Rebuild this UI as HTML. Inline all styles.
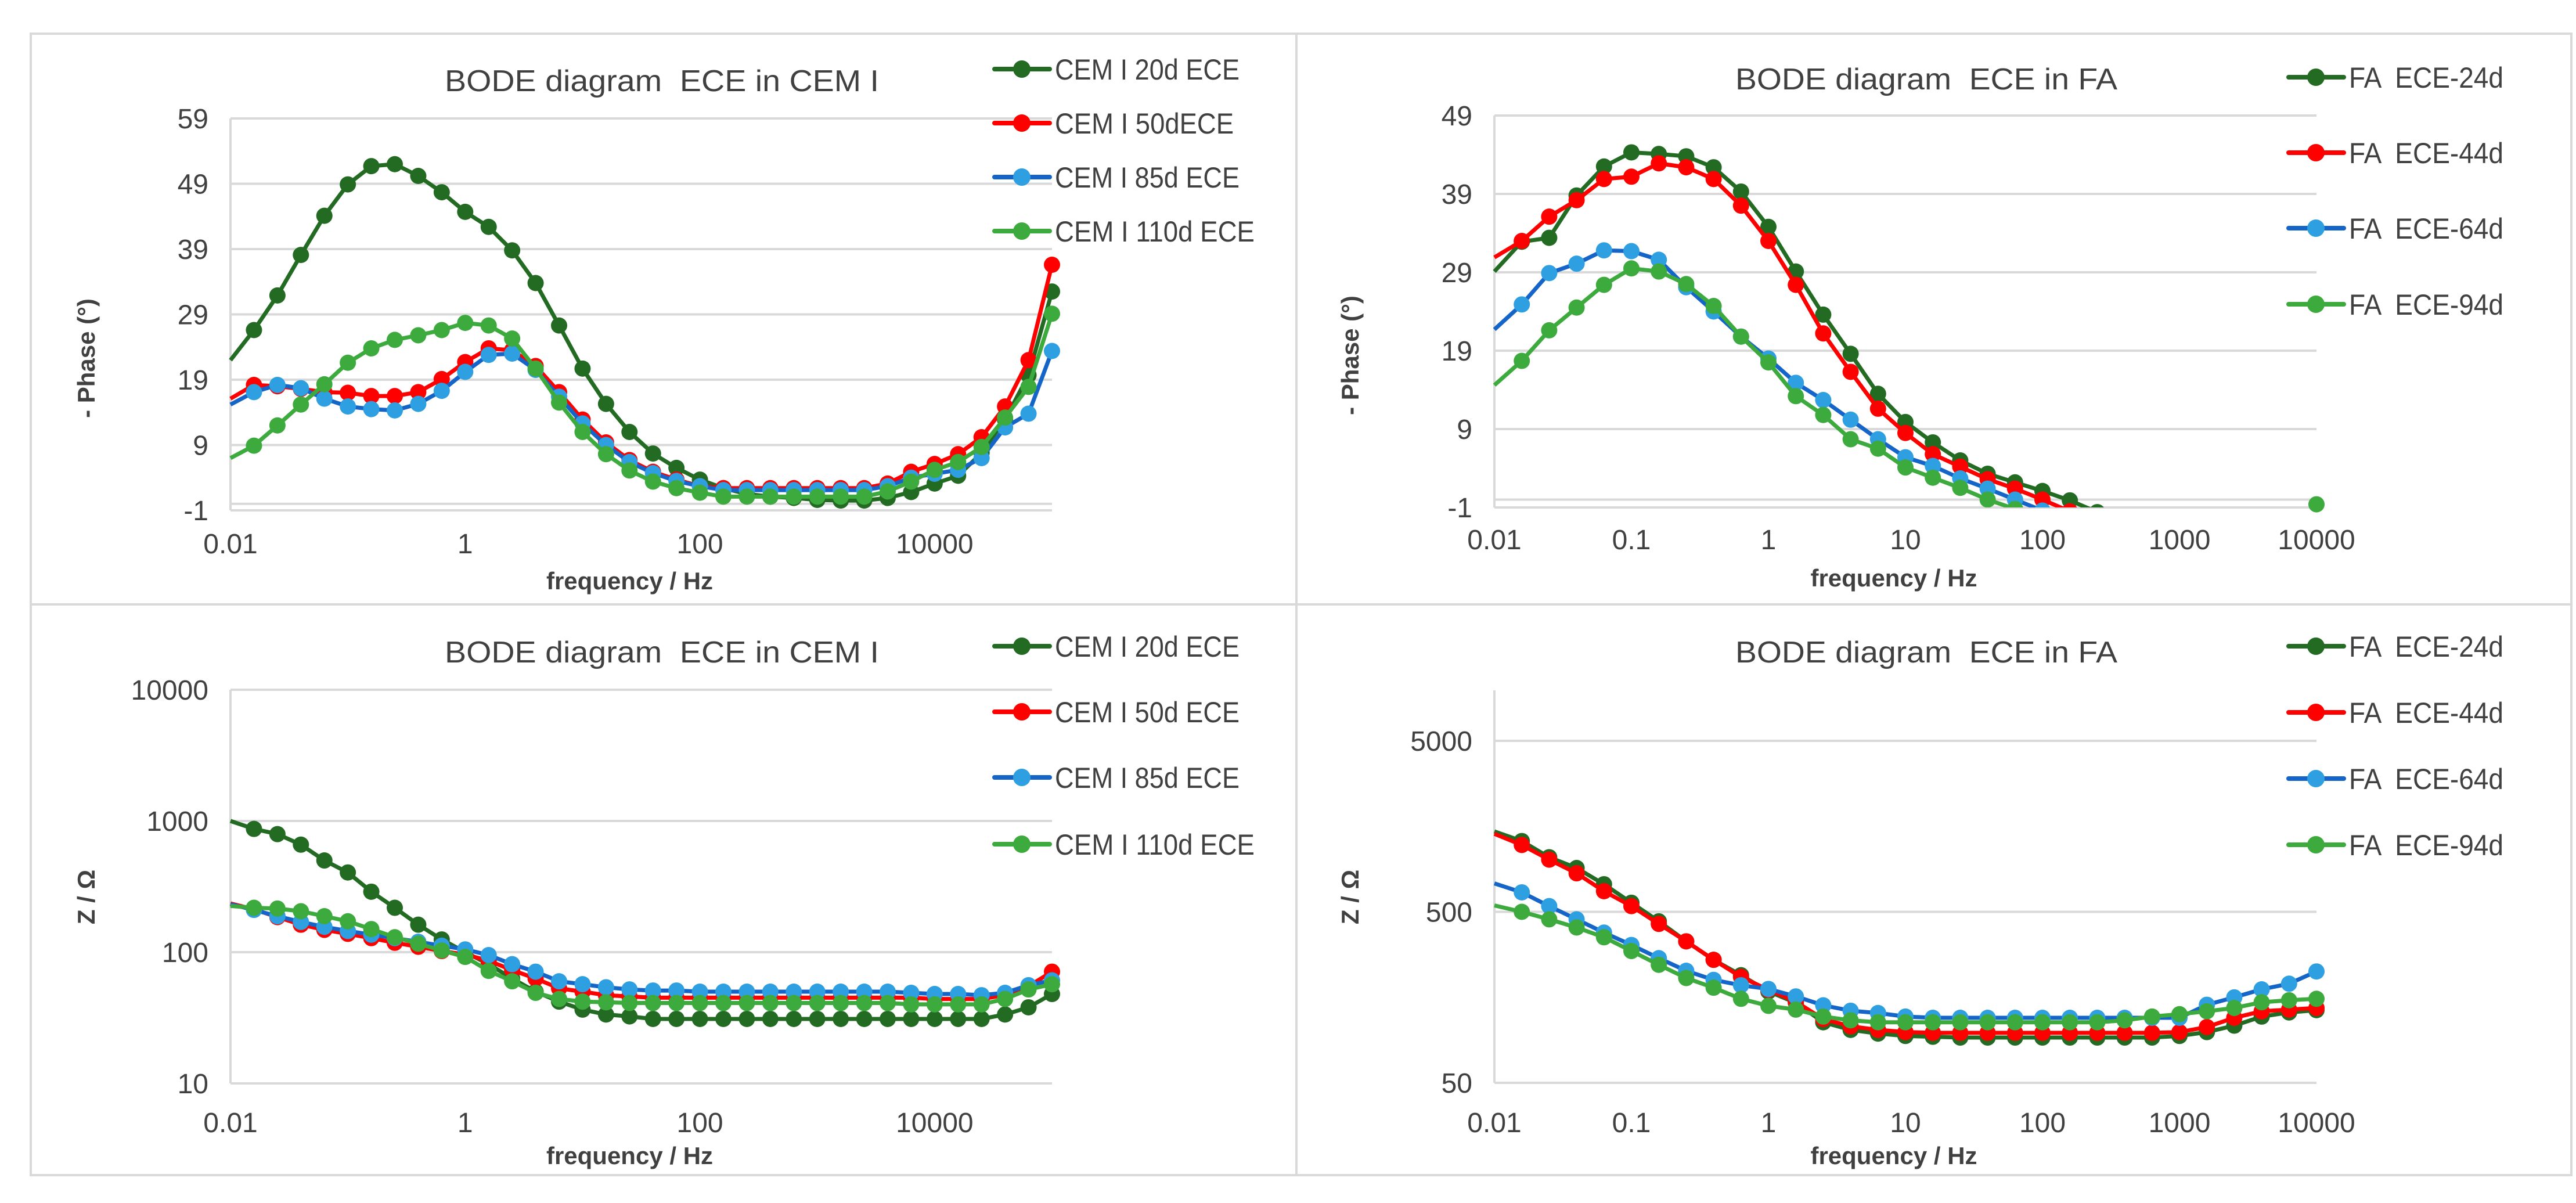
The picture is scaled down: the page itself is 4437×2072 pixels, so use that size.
<!DOCTYPE html>
<html><head><meta charset="utf-8"><title>BODE diagrams ECE</title>
<style>
html,body{margin:0;padding:0;background:#fff;}
svg{display:block;}
text{font-family:"Liberation Sans",sans-serif;fill:#404040;white-space:pre;}
</style></head>
<body>
<svg id="root" xmlns="http://www.w3.org/2000/svg" width="4437" height="2072" viewBox="0 0 4437 2072">
<rect x="0" y="0" width="4437" height="2072" fill="#fff"/>
<rect x="53" y="58" width="4376" height="1966" fill="none" stroke="#d9d9d9" stroke-width="4"/>
<line x1="53" y1="1041" x2="4429" y2="1041" stroke="#d9d9d9" stroke-width="4"/>
<line x1="2233" y1="58" x2="2233" y2="2024" stroke="#d9d9d9" stroke-width="4"/>
</svg>
<script>
// ---- shared log-frequency grid (log10 Hz) ----
const logFreqCem = [-2.0,-1.8,-1.6,-1.4,-1.2,-1.0,-0.8,-0.6,-0.4,-0.2,0.0,0.2,0.4,0.6,0.8,1.0,1.2,1.4,1.6,1.8,2.0,2.2,2.4,2.6,2.8,3.0,3.2,3.4,3.6,3.8,4.0,4.2,4.4,4.6,4.8,5.0];
const logFreqFa = [-2.0,-1.8,-1.6,-1.4,-1.2,-1.0,-0.8,-0.6,-0.4,-0.2,0.0,0.2,0.4,0.6,0.8,1.0,1.2,1.4,1.6,1.8,2.0,2.2,2.4,2.6,2.8,3.0,3.2,3.4,3.6,3.8,4.0];

// ---- CEM I phase (-deg) ----
const cemPhase20 = [22.0,26.6,31.9,38.1,44.1,48.9,51.7,52.0,50.2,47.7,44.7,42.4,38.8,33.8,27.3,20.7,15.3,11.0,7.7,5.5,3.7,2.4,1.5,1.1,0.9,0.6,0.5,0.5,0.9,1.8,3.1,4.3,7.8,12.9,19.7,32.5];
const cemPhase50 = [16.1,18.2,18.0,17.6,17.1,17.0,16.5,16.5,17.1,19.1,21.7,23.8,23.5,21.1,17.1,12.9,9.4,6.7,4.9,3.7,2.7,2.4,2.4,2.4,2.4,2.4,2.4,2.4,3.1,4.9,6.1,7.6,10.2,14.9,22.0,36.6];
const cemPhase85 = [15.2,17.1,18.2,17.7,16.1,14.9,14.5,14.3,15.3,17.3,20.2,22.8,23.0,20.5,16.4,12.3,9.0,6.4,4.7,3.5,2.7,2.1,2.1,2.1,2.1,2.1,2.1,2.1,2.7,4.0,4.6,5.2,7.0,11.7,13.8,23.4];
const cemPhase110 = [7.0,8.9,12.0,15.2,18.3,21.6,23.8,25.1,25.8,26.6,27.7,27.3,25.3,20.7,15.5,11.0,7.6,5.1,3.4,2.4,1.7,1.1,1.1,1.1,1.1,1.1,1.1,1.1,1.9,3.4,5.2,6.4,8.7,13.2,17.9,29.1];
const cemPhaseTicks = [-1,9,19,29,39,49,59];

// ---- FA phase (-deg) ----
const faPhase24 = [29.1,32.9,33.4,38.8,42.5,44.3,44.1,43.8,42.4,39.3,34.8,29.1,23.6,18.6,13.5,9.9,7.3,5.0,3.3,2.2,1.1,-0.1,-1.6];
const faPhase44 = [30.9,33.0,36.1,38.2,40.9,41.2,42.9,42.4,40.9,37.5,33.0,27.4,21.2,16.3,11.6,8.5,5.8,4.2,2.6,1.4,0.0,-1.5];
const faPhase64 = [21.7,24.9,28.9,30.1,31.8,31.7,30.6,27.1,24.0,20.8,18.0,14.9,12.7,10.2,7.7,5.4,4.3,2.7,1.4,0.0,-1.4];
const faPhase94 = [14.6,17.7,21.6,24.5,27.4,29.5,29.1,27.5,24.7,20.8,17.5,13.2,10.8,7.7,6.5,4.1,2.8,1.5,0.0,-1.2];
const faPhaseExtraLogF = [4.0];
const faPhaseExtraVal = [-0.6];
const faPhaseTicks = [-1,9,19,29,39,49];

// ---- CEM I |Z| (ohm) ----
const cemZ20 = [1000,870,794,660,500,405,289,218,162,125,100,81,63,50,42,36.5,33.5,32.4,31,31,31,31,31,31,31,31,31,31,31,31,31,31,31,33.5,38,48];
const cemZ50 = [235,212,185,162,148,138,128,118,110,102,96,86,73,63,53,50,47,46,45,45,45,45,45,45,45,45,45,45,45,45,44,44,44,47,55,71];
const cemZ85 = [232,210,188,170,156,145,136,128,120,112,105,95,81,71,60,57,54,52,51,51,50,50,50,50,50,50,50,50,50,49,48,48,47,49,56,61];
const cemZ110 = [225,218,215,205,188,172,150,130,116,103,92,72,60,49,44,42,41.5,41,41,41,41,41,41,41,41,41,41,41,41,40,40,40,40,44,52,57];
const cemZTicks = [10,100,1000,10000];

// ---- FA |Z| (ohm) ----
const faZ24 = [1476,1297,1043,902,725,565,440,336,262,213,171,147,113,102,97,94,93,92,92,92,92,92,92,92,92,94,99,108,122,129,133];
const faZ44 = [1430,1230,1010,840,660,540,425,336,262,208,175,149,118,107,102,99,98,98,98,98,98,98,98,98,98,99,106,120,131,134,137];
const faZ64 = [733,650,540,452,378,320,268,226,200,186,177,160,142,132,128,122,120,120,120,120,120,120,120,120,120,120,143,158,176,190,224];
const faZ94 = [545,500,452,405,355,295,245,205,180,155,141,134,122,116,113,113,113,113,113,113,113,113,113,116,122,126,131,137,148,152,155];
const faZTicks = [50,500,5000];

const cemXTicks = [-2,0,2,4];
const cemXLabels = ["0.01","1","100","10000"];
const faXTicks = [-2,-1,0,1,2,3,4];
const faXLabels = ["0.01","0.1","1","10","100","1000","10000"];

const colors = {dg:"#236b22", red:"#ff0000", blueL:"#1565c8", blueM:"#2e9fe0", lg:"#3daa3d"};

const NS = "http://www.w3.org/2000/svg";
const root = document.getElementById('root');
function mk(tag, attrs, parent){
  const e = document.createElementNS(NS, tag);
  for (const k in attrs) e.setAttribute(k, attrs[k]);
  (parent||root).appendChild(e);
  return e;
}

function chart(cfg){
  const g = mk('g', {});
  
  
  const L = cfg.left, R = cfg.right, T = cfg.top, B = cfg.bottom;
  const xs = v => L + (v - cfg.xmin) / (cfg.xmax - cfg.xmin) * (R - L);
  const ys = v => {
    const t = cfg.log ? Math.log10(v) : v;
    return cfg.y0 + (t - cfg.t0) / (cfg.t1 - cfg.t0) * (cfg.y1 - cfg.y0);
  };
  cfg.yTicks.forEach(v => {
    const y = ys(v);
    const ln = mk('line', {x1:L, x2:R, y1:y, y2:y, stroke:"#d9d9d9", "stroke-width":4}, g);
    
    
    const t = mk('text', {x:L-38, y:y+17, "text-anchor":"end", "font-size":48}, g);
    t.textContent = String(v);
    
    
  });
  if (cfg.zeroLine) {
    const y = ys(0);
    mk('line', {x1:L, x2:R, y1:y, y2:y, stroke:"#d9d9d9", "stroke-width":4}, g);
  }
  const ax = mk('line', {x1:L, x2:L, y1:cfg.axisTop, y2:B, stroke:"#d9d9d9", "stroke-width":4}, g);
  
  
  cfg.xTicks.forEach((v,i) => {
    const t = mk('text', {x:xs(v), y:cfg.xLabelY, "text-anchor":"middle", "font-size":48}, g);
    t.textContent = cfg.xLabels[i];
    
    
  });
  const title = mk('text', {x:cfg.titleX, y:cfg.titleY, "text-anchor":"middle", "font-size":52, textLength:cfg.titleW, lengthAdjust:"spacingAndGlyphs"}, g);
  title.textContent = cfg.title;
  
  
  const xt = mk('text', {x:(L+R)/2 - 20, y:cfg.xTitleY, "text-anchor":"middle", "font-size":42, "font-weight":"bold"}, g);
  xt.textContent = "frequency / Hz";
  
  
  const yt = mk('text', {x:0, y:0, "text-anchor":"middle", "font-size":42, "font-weight":"bold", transform:`translate(${cfg.yTitleX},${cfg.yTitleY}) rotate(-90)`}, g);
  yt.textContent = cfg.yTitle;
  
  

  const cid = 'clip-' + cfg.name;
  const defs = mk('defs', {}, g);
  const cp = mk('clipPath', {id:cid}, defs);
  mk('rect', {x:L-20, y:T-40, width:R-L+40, height:B-T+40 + cfg.clipPad}, cp);
  const plot = mk('g', {"clip-path":`url(#${cid})`}, g);

  cfg.series.forEach((s, si) => {
    const sg = mk('g', {}, plot);
    
    
    const pts = s.vals.map((v,i) => [xs(cfg.freq[i]), ys(v)]);
    const d = pts.map((p,i)=>(i?'L':'M')+p[0].toFixed(1)+' '+p[1].toFixed(1)).join(' ');
    const path = mk('path', {d:d, fill:"none", stroke:s.line, "stroke-width":7, "stroke-linejoin":"round"}, sg);
    
    
    pts.forEach((p,i) => {
      if (i === 0) return;
      const c = mk('circle', {cx:p[0], cy:p[1], r:14, fill:s.marker}, sg);
      
      
    });
  });
  if (cfg.extra) {
    cfg.extra.lf.forEach((lf,i) => {
      const c = mk('circle', {cx:xs(lf), cy:ys(cfg.extra.v[i]), r:14, fill:colors.lg}, g);
      
      
    });
  }
  cfg.series.forEach((s, si) => {
    const ly = cfg.legendY[si];
    const lg = mk('g', {}, g);
    
    
    mk('line', {x1:cfg.legendX, x2:cfg.legendX+95, y1:ly, y2:ly, stroke:s.line, "stroke-width":8, "stroke-linecap":"round"}, lg);
    mk('circle', {cx:cfg.legendX+47, cy:ly, r:15, fill:s.marker}, lg);
    const t = mk('text', {x:cfg.legendX+104, y:ly+18, "font-size":50, textLength:s.labelW, lengthAdjust:"spacingAndGlyphs"}, lg);
    t.textContent = s.label;
  });
}

const cemSeries = (a,b,c,d,labels,widths) => [
  {key:'a', vals:a, line:colors.dg, marker:colors.dg, label:labels[0], labelW:widths[0]},
  {key:'b', vals:b, line:colors.red, marker:colors.red, label:labels[1], labelW:widths[1]},
  {key:'c', vals:c, line:colors.blueL, marker:colors.blueM, label:labels[2], labelW:widths[2]},
  {key:'d', vals:d, line:colors.lg, marker:colors.lg, label:labels[3], labelW:widths[3]}
];

chart({name:'phase-cem', left:397, right:1812, top:204, bottom:879, axisTop:204,
  xmin:-2, xmax:5, log:false, t0:59, t1:-1, y0:204, y1:879, zeroLine:true, clipPad:0,
  freq:logFreqCem, yTicks:cemPhaseTicks, xTicks:cemXTicks, xLabels:cemXLabels, xLabelY:953, xTitleY:1015,
  title:"BODE diagram  ECE in CEM I", titleX:1140, titleY:157, titleW:748,
  yTitle:"- Phase (°)", yTitleX:163, yTitleY:617,
  legendX:1713, legendY:[119,212,305,398],
  series:cemSeries(cemPhase20,cemPhase50,cemPhase85,cemPhase110,["CEM I 20d ECE","CEM I 50dECE","CEM I 85d ECE","CEM I 110d ECE"],[318,308,318,344])});

chart({name:'phase-fa', left:2574, right:3990, top:199, bottom:874, axisTop:199,
  xmin:-2, xmax:4, log:false, t0:49, t1:-1, y0:199, y1:874, zeroLine:true, clipPad:0,
  freq:logFreqFa, yTicks:faPhaseTicks, xTicks:faXTicks, xLabels:faXLabels, xLabelY:946, xTitleY:1010,
  title:"BODE diagram  ECE in FA", titleX:3318, titleY:154, titleW:658,
  yTitle:"- Phase (°)", yTitleX:2340, yTitleY:612,
  legendX:3942, legendY:[133,263,393,524], extra:{lf:faPhaseExtraLogF, v:faPhaseExtraVal},
  series:cemSeries(faPhase24,faPhase44,faPhase64,faPhase94,["FA  ECE-24d","FA  ECE-44d","FA  ECE-64d","FA  ECE-94d"],[266,266,266,266])});

chart({name:'impedance-cem', left:397, right:1812, top:1188, bottom:1866, axisTop:1188,
  xmin:-2, xmax:5, log:true, t0:4, t1:1, y0:1188, y1:1866, zeroLine:false, clipPad:30,
  freq:logFreqCem, yTicks:cemZTicks, xTicks:cemXTicks, xLabels:cemXLabels, xLabelY:1950, xTitleY:2005,
  title:"BODE diagram  ECE in CEM I", titleX:1140, titleY:1141, titleW:748,
  yTitle:"Z / Ω", yTitleX:163, yTitleY:1545,
  legendX:1713, legendY:[1113,1226,1339,1454],
  series:cemSeries(cemZ20,cemZ50,cemZ85,cemZ110,["CEM I 20d ECE","CEM I 50d ECE","CEM I 85d ECE","CEM I 110d ECE"],[318,318,318,344])});

chart({name:'impedance-fa', left:2574, right:3990, top:1189, bottom:1865, axisTop:1189,
  xmin:-2, xmax:4, log:true, t0:Math.log10(5000), t1:Math.log10(50), y0:1276, y1:1865, zeroLine:false, clipPad:30,
  freq:logFreqFa, yTicks:faZTicks, xTicks:faXTicks, xLabels:faXLabels, xLabelY:1950, xTitleY:2005,
  title:"BODE diagram  ECE in FA", titleX:3318, titleY:1141, titleW:658,
  yTitle:"Z / Ω", yTitleX:2340, yTitleY:1545,
  legendX:3942, legendY:[1113,1227,1341,1455],
  series:cemSeries(faZ24,faZ44,faZ64,faZ94,["FA  ECE-24d","FA  ECE-44d","FA  ECE-64d","FA  ECE-94d"],[266,266,266,266])});
</script>
</body></html>
